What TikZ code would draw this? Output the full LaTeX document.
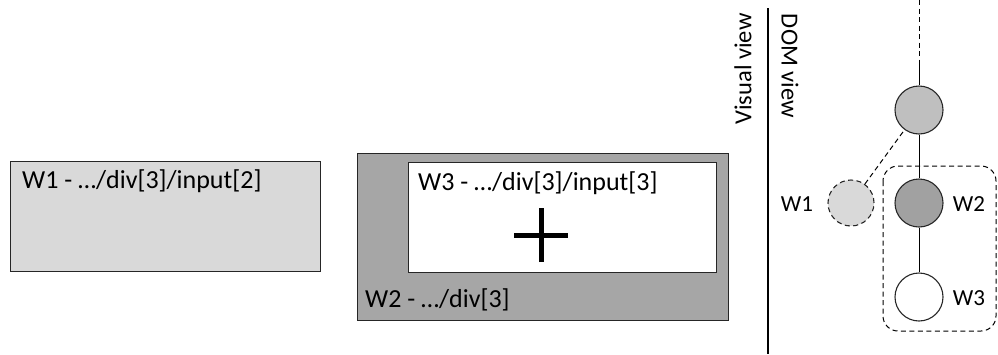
\documentclass[tikz,border=0pt]{standalone}
\usepackage{fontspec}
\setmainfont{Carlito}
\begin{document}
\begin{tikzpicture}[x=1pt,y=-1pt,
  box/.style={draw=black!85, line width=1.1pt, inner sep=0pt, anchor=north west},
  lbl/.style={inner sep=0pt, font=\fontsize{26}{30}\selectfont, anchor=base west},
  tnode/.style={circle, draw=black!85, line width=1.1pt, minimum size=48pt, inner sep=0pt},
  tlbl/.style={inner sep=0pt, font=\fontsize{23}{28}\selectfont},
  vlbl/.style={inner sep=0pt, font=\fontsize{24.5}{28}\selectfont},
  dsh/.style={dash pattern=on 5pt off 3.5pt}
]
\useasboundingbox (0,0) rectangle (998,354);
% left boxes
\node[box, fill=black!15, minimum width=310pt, minimum height=110pt] (w1box) at (10,161) {};
\node[lbl] (w1txt) at (22,188) {W1 - …/div[3]/input[2]};
\node[box, fill=black!35, minimum width=371pt, minimum height=167pt] (w2box) at (357,153) {};
\node[box, fill=white, minimum width=308pt, minimum height=110pt] (w3box) at (408,162) {};
\node[lbl] (w3txt) at (418,190) {W3 - …/div[3]/input[3]};
\node[lbl] (w2txt) at (365,307) {W2 - …/div[3]};
\coordinate (pc) at (541,235);
\draw[line width=5pt] ([xshift=-27pt]pc) -- ([xshift=27pt]pc);
\draw[line width=5pt] ([yshift=-27pt]pc) -- ([yshift=27pt]pc);
% separator
\coordinate (sepT) at (768,8);
\coordinate (sepB) at (768,354);
\draw[line width=1.1pt] (sepT) -- (sepB);
\node[vlbl, rotate=90] (vis) at (743,69) {Visual view};
\node[vlbl, rotate=-90] (dom) at (790,66) {DOM view};
% tree
\node[tnode, fill=black!25] (p) at (919,110) {};
\node[tnode, fill=black!37] (n2) at (919,203) {};
\node[tnode, fill=white] (n3) at (919,297) {};
\node[tnode, fill=black!15, dsh, minimum size=46pt] (n1) at (851,203) {};
\coordinate (top) at (919,0);
\coordinate (mid) at (919,60);
\draw[line width=1pt, dsh] (top) -- (mid);
\draw[line width=1pt] (mid) -- (p);
\draw[line width=1pt] (p) -- (n2);
\draw[line width=1pt] (n2) -- (n3);
\draw[line width=1pt, dsh] (n1) -- (p);
\node[tlbl] (l1) at (797,204) {W1};
\node[tlbl] (l2) at (969,204) {W2};
\node[tlbl] (l3) at (969,298) {W3};
\draw[line width=1pt, dsh, rounded corners=15pt] (883,166) rectangle (996,331);
\end{tikzpicture}
\end{document}
